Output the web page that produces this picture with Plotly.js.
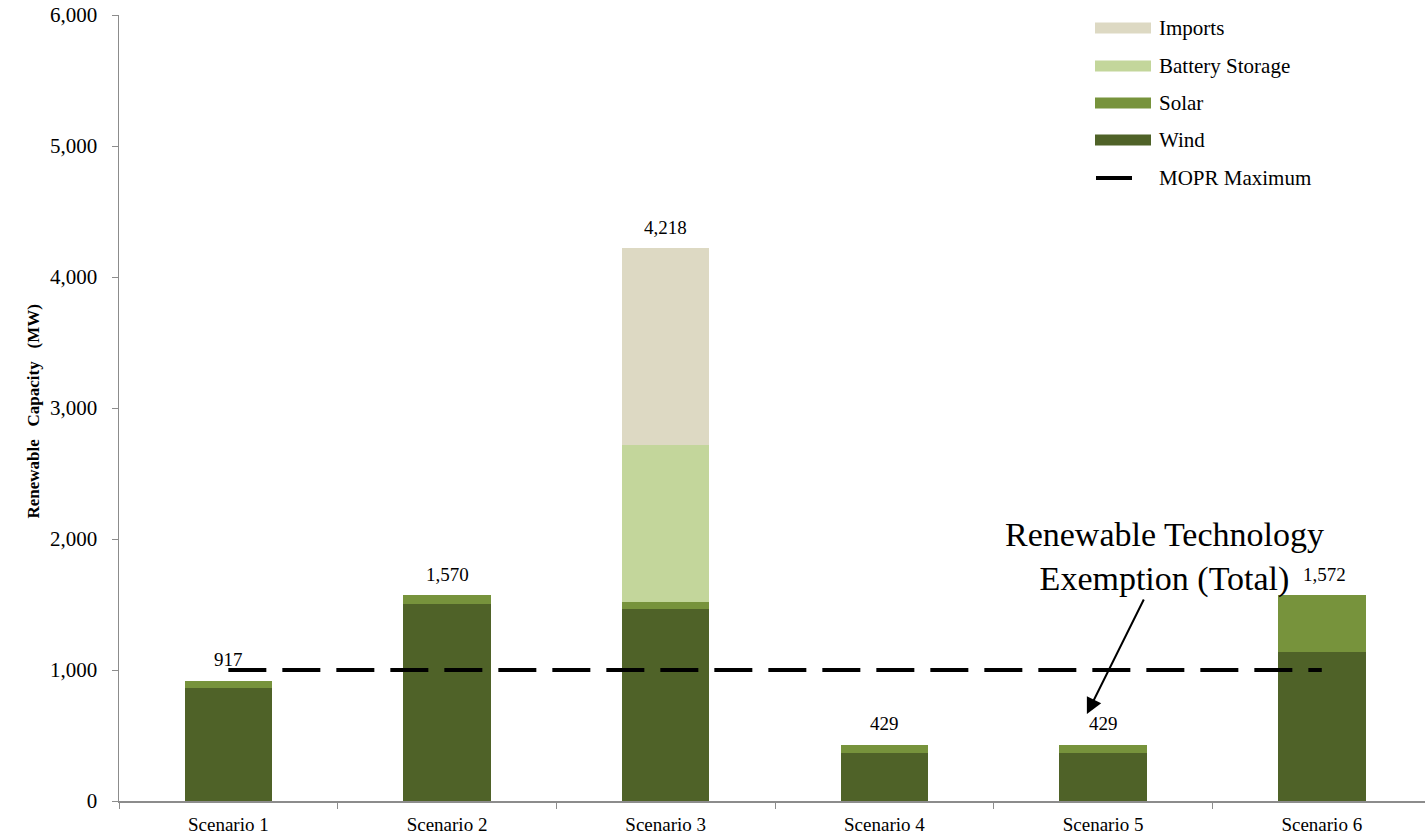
<!DOCTYPE html>
<html>
<head>
<meta charset="utf-8">
<script src="https://cdn.plot.ly/plotly-3.0.1.min.js"></script>
<style>
  html, body { margin: 0; padding: 0; background: #ffffff; overflow: hidden; }
  #chart { width: 1425px; height: 840px; }
</style>
</head>
<body>
<div id="chart"></div>
<script>
// ---- Data ----
const categories = ["Scenario 1", "Scenario 2", "Scenario 3", "Scenario 4", "Scenario 5", "Scenario 6"];
const wind    = [860, 1505, 1462, 365, 365, 1135];
const solar   = [57, 65, 60, 64, 64, 437];
const battery = [0, 0, 1198, 0, 0, 0];
const imports = [0, 0, 1498, 0, 0, 0];
const moprMaximum = 1000;
const yTicks = [0, 1000, 2000, 3000, 4000, 5000, 6000];

const seriesNames  = ["Wind", "Solar", "Battery Storage", "Imports"];
const seriesColors = ["#4F6228", "#77933C", "#C3D69B", "#DDD9C3"];
const seriesValues = [wind, solar, battery, imports];

const totals = categories.map((c, i) => wind[i] + solar[i] + battery[i] + imports[i]);

const FONT = "Liberation Serif, Times New Roman, serif";

// ---- Traces ----
const traces = seriesNames.map((name, k) => ({
  type: "bar",
  name: name,
  x: categories,
  y: seriesValues[k],
  marker: { color: seriesColors[k], line: { width: 0 } },
  width: 0.4,
  hoverinfo: "name+y",
  showlegend: false
}));

traces.push({
  type: "scatter",
  mode: "lines",
  name: "MOPR Maximum",
  x: [categories[0], categories[categories.length - 1]],
  y: [moprMaximum, moprMaximum],
  line: { color: "#000000", width: 4, dash: "38px,16px" },
  showlegend: false
});

// ---- Total labels ----
const annotations = categories.map((c, i) => ({
  x: c,
  y: totals[i],
  xref: "x", yref: "y",
  text: totals[i].toLocaleString("en-US"),
  showarrow: false,
  yanchor: "middle",
  yshift: 21,
  xshift: i === 5 ? 3 : 0,
  font: { family: FONT, size: 19, color: "#000000" }
}));

// Callout annotation with arrow
annotations.push({
  x: 3.926, y: 664,
  xref: "x", yref: "y",
  text: "Renewable Technology<br>Exemption (Total)",
  showarrow: true,
  arrowhead: 2,
  arrowsize: 1.6,
  arrowwidth: 2,
  arrowcolor: "#000000",
  ax: 78, ay: -157,
  font: { family: FONT, size: 34, color: "#000000" },
  align: "center"
});

// ---- Geometry helpers ----
const plotLeft = 119, plotRight = 1425, plotTop = 15, plotBottom = 801;
const px2x = p => (p - plotLeft) / (plotRight - plotLeft);
const py2y = p => (plotBottom - p) / (plotBottom - plotTop);

// Y-axis title
annotations.push({
  x: px2x(22), y: py2y(412),
  xref: "paper", yref: "paper",
  text: "<b>Renewable&nbsp;&nbsp; Capacity&nbsp;&nbsp; (MW)</b>",
  showarrow: false,
  textangle: -90,
  font: { family: FONT, size: 17, color: "#000000" }
});

// ---- Custom legend ----
const legendNames  = ["Imports", "Battery Storage", "Solar", "Wind", "MOPR Maximum"];
const legendColors = ["#DDD9C3", "#C3D69B", "#77933C", "#4F6228", "#000000"];
const legendRowsY  = [28, 66, 103, 140, 178];

const shapes = [];
legendNames.forEach((name, i) => {
  const cy = legendRowsY[i];
  if (i < 4) {
    shapes.push({
      type: "rect", xref: "paper", yref: "paper",
      x0: px2x(1095), x1: px2x(1151), y0: py2y(cy + 5.5), y1: py2y(cy - 5.5),
      fillcolor: legendColors[i], line: { width: 0 }
    });
  } else {
    shapes.push({
      type: "line", xref: "paper", yref: "paper",
      x0: px2x(1096), x1: px2x(1132), y0: py2y(cy), y1: py2y(cy),
      line: { color: "#000000", width: 4 }
    });
  }
  annotations.push({
    x: px2x(1157), y: py2y(cy),
    xref: "paper", yref: "paper",
    xanchor: "left", yanchor: "middle",
    text: name, showarrow: false,
    font: { family: FONT, size: 21, color: "#000000" }
  });
});

const layout = {
  width: 1425,
  height: 840,
  margin: { l: plotLeft, r: 1425 - plotRight, t: plotTop, b: 840 - plotBottom, pad: 0 },
  paper_bgcolor: "#ffffff",
  plot_bgcolor: "#ffffff",
  barmode: "stack",
  showlegend: false,
  font: { family: FONT, size: 18, color: "#000000" },
  separators: ".,",
  xaxis: {
    type: "category",
    range: [-0.5, 5.472],
    showline: true,
    linecolor: "#8c8c8c",
    linewidth: 1.5,
    ticks: "outside",
    tickson: "boundaries",
    ticklen: 6,
    tickcolor: "#8c8c8c",
    showgrid: false,
    zeroline: false,
    tickfont: { family: FONT, size: 19, color: "#000000" },
    ticklabelstandoff: 6,
    automargin: false
  },
  yaxis: {
    range: [0, 6000],
    tickvals: yTicks,
    ticktext: yTicks.map(v => v.toLocaleString("en-US")),
    showline: true,
    linecolor: "#8c8c8c",
    linewidth: 1.5,
    ticks: "outside",
    ticklen: 6,
    tickcolor: "#8c8c8c",
    showgrid: false,
    zeroline: false,
    tickfont: { family: FONT, size: 21, color: "#000000" },
    ticklabelstandoff: 10,
    automargin: false
  },
  annotations: annotations,
  shapes: shapes
};

Plotly.newPlot("chart", traces, layout, { displayModeBar: false, staticPlot: true });
</script>
</body>
</html>
